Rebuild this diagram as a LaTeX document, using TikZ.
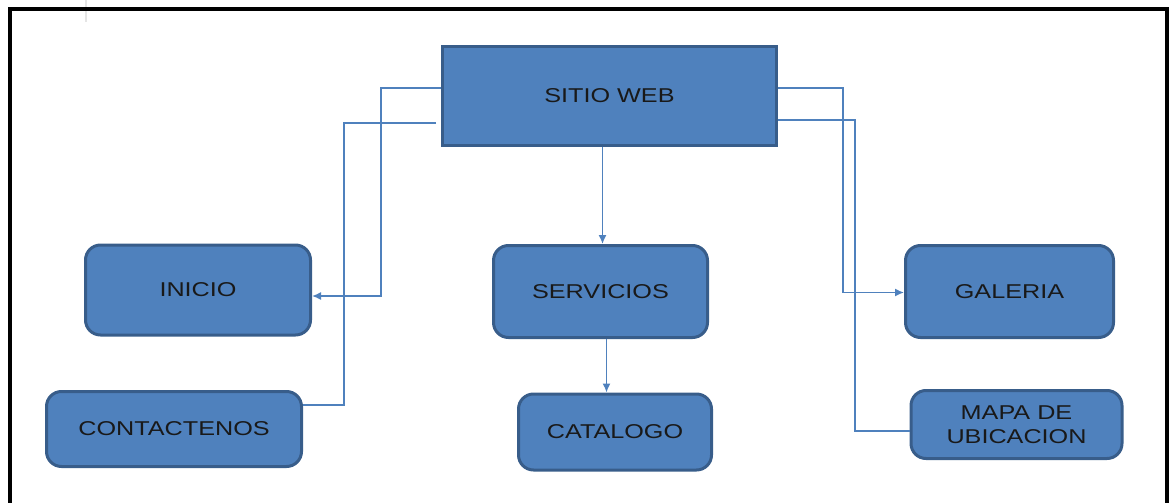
\documentclass[tikz,border=0pt]{standalone}
\usepackage{fontspec}
\setmainfont{Liberation Sans}[FakeStretch=1.26]
\usetikzlibrary{arrows.meta}
\definecolor{caja}{HTML}{4F81BD}
\definecolor{borde}{HTML}{385D8A}
\begin{document}
\begin{tikzpicture}[x=1pt,y=-1pt,>={Latex[length=9pt,width=8pt]},font=\fontsize{20}{24}\selectfont,
	caja/.style={draw=borde,fill=caja,line width=3pt,rounded corners=15pt,text=black!90,align=center},
	linea/.style={draw=caja,line width=1.5pt}]
				\useasboundingbox (0,0) rectangle (1170,503);
				\draw[black!10,line width=1.5pt] (86,0)--(86,22);
				\draw[line width=4pt] (9.5,503) |- (1166.5,9.5) -- (1166.5,503);
				\node[caja,rounded corners=0pt,minimum width=334pt,minimum height=99pt] (web) at (609.5,96) {SITIO WEB};
				\node[caja,minimum width=225pt,minimum height=90pt] (inicio) at (198,290) {INICIO};
				\node[caja,minimum width=255pt,minimum height=75pt] (contacto) at (174,429) {CONTACTENOS};
				\node[caja,minimum width=214pt,minimum height=92pt] (servicios) at (600.5,291.5) {SERVICIOS};
				\node[caja,minimum width=193pt,minimum height=76pt] (catalogo) at (615,432) {CATALOGO};
				\node[caja,minimum width=208pt,minimum height=92pt] (galeria) at (1009.5,291.5) {GALERIA};
				\node[caja,minimum width=211pt,minimum height=68pt] (mapa) at (1016.5,424.5) {MAPA DE\\UBICACION};
				\draw[linea,->] ([yshift=8pt]web.west) -- ++(-60,0) |- ([yshift=-6pt]inicio.east);
				\draw[linea] ([xshift=-5pt,yshift=-27pt]web.west) -- ++(-92,0) |- ([yshift=24pt]contacto.east);
				\draw[linea,->] ([xshift=-7pt]web.south) -- ([xshift=-7pt]web.south |- servicios.north);
				\draw[linea,->] ([xshift=6pt]servicios.south) -- ([xshift=6pt]servicios.south |- catalogo.north);
				\draw[linea,->] ([yshift=8pt]web.east) -- ++(65,0) |- ([yshift=-1pt]galeria.west);
				\draw[linea] ([yshift=-24pt]web.east) -- ++(77,0) |- ([yshift=-6.5pt]mapa.west);
			\end{tikzpicture}
\end{document}
